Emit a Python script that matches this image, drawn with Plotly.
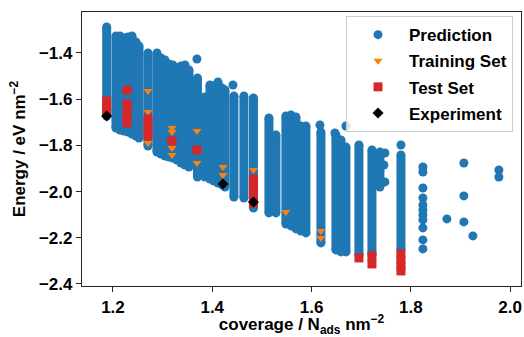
import plotly.graph_objects as go

# ---------------- data ----------------
# Prediction: dense vertical bands of predicted points (coverage, highest energy, lowest energy)
band_cov = [1.1873, 1.2060, 1.2141, 1.2222, 1.2302, 1.2383, 1.2463, 1.2524, 1.2705,
            1.2886, 1.2967, 1.3047, 1.3128, 1.3208, 1.3289, 1.3370, 1.3450, 1.3531,
            1.3702, 1.3853, 1.3954, 1.4034, 1.4115, 1.4195, 1.4256, 1.4437, 1.4638,
            1.4830, 1.5142, 1.5283, 1.5484, 1.5585, 1.5686, 1.5787, 1.5887, 1.6189,
            1.6491, 1.6592, 1.6693, 1.6955, 1.7217, 1.7378, 1.7801]
band_top = [-1.2874, -1.3264, -1.3264, -1.3351, -1.3307, -1.3264, -1.3524, -1.3697, -1.4000,
            -1.4000, -1.4216, -1.4303, -1.4476, -1.4519, -1.4649, -1.4563, -1.4519, -1.4736,
            -1.5082, -1.5905, -1.5385, -1.5429, -1.5255, -1.5515, -1.5602, -1.5861, -1.5861,
            -1.5948, -1.6814, -1.7550, -1.6727, -1.6684, -1.6771, -1.7160, -1.7160, -1.7420,
            -1.7550, -1.7766, -1.8069, -1.7983, -1.8199, -1.8286, -1.8416]
band_bottom = [-1.6727, -1.7247, -1.7333, -1.7377, -1.7420, -1.7506, -1.7593, -1.7680, -1.8026,
               -1.8286, -1.8372, -1.8459, -1.8502, -1.8545, -1.8632, -1.8762, -1.8848, -1.8935,
               -1.9368, -1.9368, -1.9455, -1.9541, -1.9628, -1.9714, -1.9801, -2.0234, -2.0277,
               -2.0710, -2.0926, -2.0926, -2.1403, -2.1489, -2.1619, -2.1706, -2.1792, -2.2225,
               -2.2528, -2.2615, -2.2615, -2.2745, -2.2745, -1.9801, -2.2528]

# Prediction: isolated points
pred_cov = [1.3692, 1.4417, 1.6169, 1.6471, 1.6693, 1.7801, 1.7478, 1.7458, 1.7478,
            1.8244, 1.8244, 1.8244, 1.8244, 1.8244, 1.8244, 1.8244, 1.8244, 1.8244, 1.8244, 1.8244,
            1.8727, 1.9069, 1.9069, 1.9069, 1.9251, 1.9774, 1.9774]
pred_energy = [-1.4260, -1.5385, -1.7117, -1.7463, -1.7160, -1.7983, -1.8329, -1.8848, -1.9584,
               -1.8935, -1.9152, -1.9844, -2.0277, -2.0580, -2.0797, -2.1013, -2.1229, -2.1576, -2.2095, -2.2485,
               -2.1186, -1.8762, -2.0190, -2.1316, -2.1922, -1.9065, -1.9368]

# Training set
train_cov = [1.2282, 1.2705, 1.2705, 1.2705, 1.3188, 1.3188, 1.3188, 1.3188, 1.3692, 1.3692,
             1.4216, 1.4216, 1.4830, 1.5484, 1.6189, 1.6189]
train_energy = [-1.6424, -1.5645, -1.6554, -1.7896, -1.7247, -1.7420, -1.8113, -1.8416, -1.7377, -1.8762,
                -1.8935, -1.9281, -1.9065, -2.0883, -2.1706, -2.2009]

# Test set
test_cov = [1.1873, 1.1873, 1.1873, 1.2282, 1.2282, 1.2282, 1.2282, 1.2282,
            1.2705, 1.2705, 1.2705, 1.2705, 1.3188, 1.3692,
            1.4830, 1.4830, 1.4830, 1.4830, 1.4830, 1.6955, 1.7217, 1.7217,
            1.7801, 1.7801, 1.7801, 1.7801]
test_energy = [-1.6078, -1.6294, -1.6511, -1.5602, -1.6208, -1.6468, -1.6727, -1.7030,
               -1.6857, -1.7117, -1.7377, -1.7593, -1.7810, -1.8199,
               -1.9455, -1.9714, -1.9974, -2.0234, -2.0494, -2.2874, -2.2788, -2.3134,
               -2.2701, -2.2961, -2.3221, -2.3437]

# Experiment
exp_cov = [1.1873, 1.4216, 1.4830]
exp_energy = [-1.6727, -1.9671, -2.0450]

x_ticks = [1.2, 1.4, 1.6, 1.8, 2.0]
y_ticks = [-2.4, -2.2, -2.0, -1.8, -1.6, -1.4]

# ---------------- figure ----------------
BLUE, ORANGE, RED = "#1f77b4", "#ff7f0e", "#d62728"
FONT = dict(family="Liberation Sans, Arial, sans-serif", size=17, color="black", weight="bold")
MS = 9

bx, by = [], []
for c, t, b in zip(band_cov, band_top, band_bottom):
    bx += [c, c, None]
    by += [t, b, None]

fig = go.Figure()
fig.add_trace(go.Scatter(x=bx, y=by, mode="lines+markers", showlegend=False, legendgroup="p",
                         line=dict(color=BLUE, width=MS), connectgaps=False,
                         marker=dict(color=BLUE, size=MS, line=dict(width=0))))
fig.add_trace(go.Scatter(x=pred_cov, y=pred_energy, mode="markers", name="Prediction", legendgroup="p",
                         marker=dict(color=BLUE, size=MS, symbol="circle", line=dict(width=0))))
fig.add_trace(go.Scatter(x=train_cov, y=train_energy, mode="markers", name="Training Set", legendgroup="tr",
                         marker=dict(color=ORANGE, size=8, symbol="triangle-down", line=dict(width=0))))
fig.add_trace(go.Scatter(x=test_cov, y=test_energy, mode="markers", name="Test Set", legendgroup="te",
                         marker=dict(color=RED, size=9, symbol="square", line=dict(width=0))))
fig.add_trace(go.Scatter(x=exp_cov, y=exp_energy, mode="markers", name="Experiment", legendgroup="ex",
                         marker=dict(color="black", size=8.5, symbol="diamond", line=dict(width=0))))

axis_common = dict(showgrid=False, zeroline=False, showline=True, linecolor="#262626",
                   linewidth=1.3, mirror=True, ticks="outside", ticklen=5, tickwidth=1.3,
                   tickcolor="#262626", tickfont=FONT, tickformat=".1f", automargin=False)

fig.update_layout(
    width=524, height=337,
    margin=dict(l=82, r=3, t=12, b=51),
    paper_bgcolor="white", plot_bgcolor="white",
    xaxis=dict(range=[1.1376, 2.022], tickmode="array", tickvals=x_ticks,
               title=dict(text="coverage / N<sub>ads</sub> nm<sup>−2</sup>", font=FONT, standoff=10),
               **axis_common),
    yaxis=dict(range=[-2.409, -1.2225], tickmode="array", tickvals=y_ticks,
               title=dict(text="Energy / eV nm<sup>−2</sup>", font=FONT, standoff=8),
               **axis_common),
    legend=dict(x=0.9818, xanchor="right", y=0.985, yanchor="top", traceorder="grouped",
                bgcolor="rgba(255,255,255,0.8)", bordercolor="#cccccc", borderwidth=1,
                font=FONT, itemwidth=52, tracegroupgap=1),
)

fig.write_html("out.html")
